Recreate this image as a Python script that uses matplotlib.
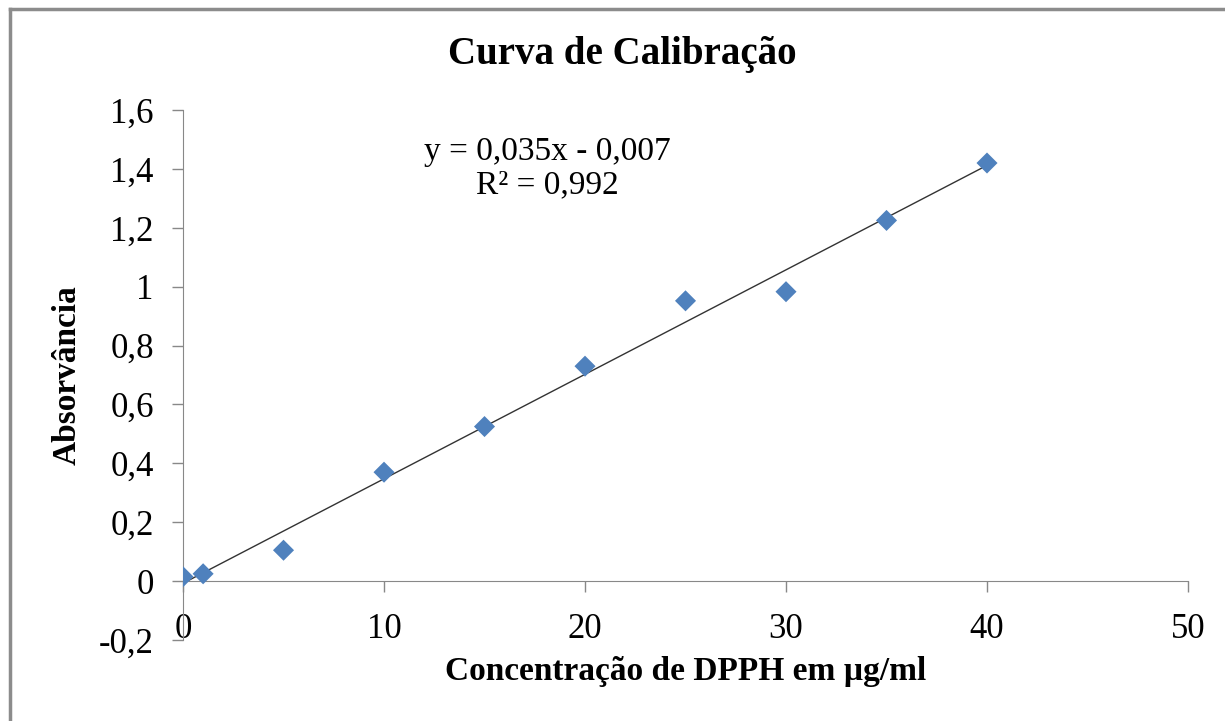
import numpy as np
import matplotlib
matplotlib.use("Agg")
import matplotlib.pyplot as plt
from matplotlib.lines import Line2D
from matplotlib.ticker import FuncFormatter

# dados
concentracao = [0, 1, 5, 10, 15, 20, 25, 30, 35, 40]
absorvancia = [0.015, 0.025, 0.105, 0.37, 0.525, 0.73, 0.952, 0.983, 1.225, 1.42]
x_ticks = [0, 10, 20, 30, 40, 50]
y_ticks = [-0.2, 0, 0.2, 0.4, 0.6, 0.8, 1.0, 1.2, 1.4, 1.6]
equacao = "y = 0,035x - 0,007\nR² = 0,992"

plt.rcParams["font.family"] = ["Liberation Serif", "DejaVu Serif"]

fig = plt.figure(figsize=(12.25, 7.21), dpi=100)
ax = fig.add_axes([0.1494, 0.1123, 0.8204, 0.7351])

# borda cinza do gráfico (só topo e esquerda visíveis)
fig.add_artist(Line2D([0.008, 1], [0.987, 0.987], transform=fig.transFigure,
                      color="#8c8c8c", lw=2.5))
fig.add_artist(Line2D([0.008, 0.008], [0, 0.987], transform=fig.transFigure,
                      color="#8c8c8c", lw=2.5))

# linha de tendência (ajuste linear)
a, b = np.polyfit(concentracao, absorvancia, 1)
xs = np.array([min(concentracao), max(concentracao)])
ax.plot(xs, a * xs + b, color="#333333", lw=1.0, zorder=2)

ax.scatter(concentracao, absorvancia, marker="D", s=115, color="#4F81BD",
           edgecolors="none", zorder=3)

ax.set_xlim(0, 50)
ax.set_ylim(-0.2, 1.6)
ax.set_xticks(x_ticks)
ax.set_yticks(y_ticks)

fmt = FuncFormatter(lambda v, p: ("%g" % round(v, 1)).replace(".", ","))
ax.xaxis.set_major_formatter(fmt)
ax.yaxis.set_major_formatter(fmt)

for s in ["top", "right"]:
    ax.spines[s].set_visible(False)
ax.spines["bottom"].set_position(("data", 0))
ax.spines["bottom"].set_color("#888888")
ax.spines["left"].set_color("#888888")

ax.tick_params(axis="both", colors="#888888", labelcolor="black", labelsize=25,
               length=8, width=1, direction="out")
ax.tick_params(axis="y", pad=13)
ax.tick_params(axis="x", pad=15)

fig.text(0.508, 0.924, "Curva de Calibração", fontsize=28, fontweight="bold",
         ha="center", va="center")
ax.set_ylabel("Absorvância", fontsize=24, fontweight="bold")
ax.yaxis.set_label_coords(-0.1, 0.5)
ax.set_xlabel("Concentração de DPPH em µg/ml", fontsize=24, fontweight="bold")
ax.xaxis.set_label_coords(0.5, -0.03)

fig.text(0.4465, 0.766, equacao, fontsize=24, ha="center", va="center",
         linespacing=1.12)

fig.savefig("out.png", dpi=100)
